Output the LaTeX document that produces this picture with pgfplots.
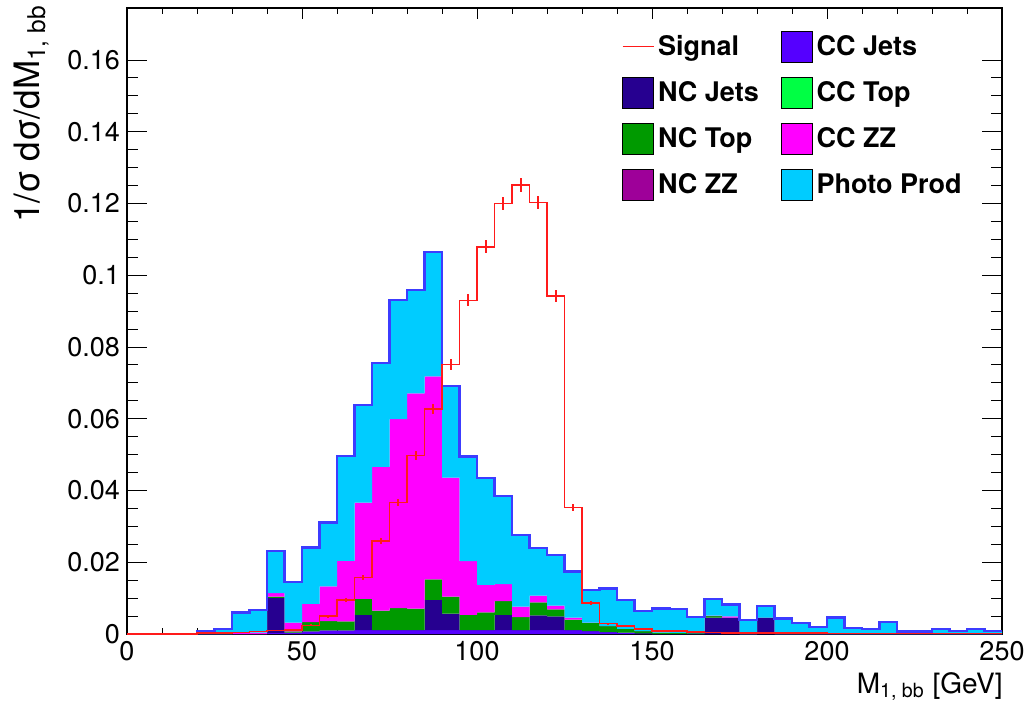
\documentclass[border=0pt]{standalone}
\usepackage{pgfplots}
\pgfplotsset{compat=1.18}
\usepackage{pgfplotstable}
\usepackage{fontspec}
\setmainfont{TeX Gyre Heros}

\definecolor{ccjets}{HTML}{5500FF}
\definecolor{ncjets}{HTML}{260090}
\definecolor{nctop}{HTML}{009A00}
\definecolor{nczz}{HTML}{9E0099}
\definecolor{cctop}{HTML}{00FF44}
\definecolor{cczz}{HTML}{FF00FF}
\definecolor{photo}{HTML}{00CCFF}
\definecolor{outl}{HTML}{3C3CFF}
\definecolor{sigred}{HTML}{FF1A1A}

% x = left bin edge (GeV); last row repeats the last bin to close the step
\pgfplotstableread{
x   ccjets ncjets nctop  cczz   photo  sig    err
0   0      0      0      0      0      0      0
5   0      0      0      0      0      0      0
10  0      0      0      0      0      0      0
15  0      0      0      0      0      0      0
20  0      0      0      0      0.0008 0.0002 0
25  0      0      0      0      0.0013 0.0003 0
30  0      0      0      0.0003 0.0057 0.0004 0
35  0      0      0      0.0004 0.0062 0.0007 0
40  0.0003 0.0098 0.0003 0.0010 0.0118 0.0010 0.0001
45  0.0004 0      0.0003 0.0025 0.0114 0.0012 0.0002
50  0.0007 0      0.0026 0.0051 0.0157 0.0024 0.0003
55  0.0010 0      0.0026 0.0097 0.0178 0.0050 0.0004
60  0.0010 0      0.0025 0.0169 0.0293 0.0095 0.0005
65  0.0011 0.0042 0.0045 0.0268 0.0272 0.0157 0.0007
70  0.0011 0      0.0054 0.0401 0.0289 0.0260 0.0009
75  0.0011 0      0.0061 0.0527 0.0332 0.0367 0.0010
80  0.0011 0      0.0060 0.0600 0.0288 0.0498 0.0012
85  0.0011 0.0084 0.0057 0.0566 0.0347 0.0628 0.0014
90  0.0011 0.0046 0.0047 0.0332 0.0256 0.0751 0.0015
95  0.0011 0      0.0042 0.0150 0.0292 0.0930 0.0017
100 0.0011 0      0.0049 0.0077 0.0298 0.1079 0.0018
105 0.0011 0.0042 0.0039 0.0047 0.0245 0.1200 0.0019
110 0.0011 0      0.0036 0.0029 0.0199 0.1252 0.0019
115 0.0011 0.0041 0.0036 0.0019 0.0132 0.1203 0.0019
120 0.0011 0.0038 0.0020 0.0010 0.0142 0.0942 0.0017
125 0.0011 0      0.0029 0.0006 0.0128 0.0353 0.0010
130 0.0008 0      0.0023 0.0001 0.0090 0.0086 0.0005
135 0.0005 0      0.0017 0      0.0105 0.0029 0.0003
140 0.0004 0      0.0010 0      0.0080 0.0022 0.0003
145 0.0002 0      0.0006 0      0.0057 0.0014 0.0002
150 0      0      0.0004 0      0.0067 0.0008 0.0001
155 0      0      0.0003 0      0.0066 0.0008 0.0001
160 0      0      0.0002 0      0.0045 0.0006 0.0001
165 0      0.0046 0.0004 0.0001 0.0046 0.0004 0
170 0      0.0046 0      0.0003 0.0033 0.0003 0
175 0      0      0      0      0.0039 0.0003 0
180 0      0.0046 0      0      0.0033 0.0003 0
185 0      0      0      0      0.0043 0.0002 0
190 0      0      0      0      0.0030 0.0002 0
195 0      0      0      0      0.0019 0.0002 0
200 0      0      0      0      0.0046 0.0001 0
205 0      0      0      0      0.0016 0.0001 0
210 0      0      0      0      0.0015 0.0001 0
215 0      0      0      0      0.0034 0.0001 0
220 0      0      0      0      0.0007 0.0001 0
225 0      0      0      0      0.0007 0.0001 0
230 0      0      0      0      0.0015 0.0001 0
235 0      0      0      0      0.0009 0.0001 0
240 0      0      0      0      0.0015 0.0001 0
245 0      0      0      0      0.0009 0.0001 0
250 0      0      0      0      0.0009 0.0001 0
}\data

\pgfplotsset{
  sq legend/.style={legend image code/.code={\fill[##1] (0pt,-7.75pt) rectangle (15.5pt,7.75pt);}},
  ln legend/.style={legend image code/.code={\draw[##1] (0pt,0pt) -- (15.5pt,0pt);}},
}

\begin{document}
\begin{tikzpicture}
\begin{axis}[
  name=ax,
  scale only axis,
  width=437.5pt, height=313pt,
  xmin=0, xmax=250, ymin=0, ymax=0.1745,
  enlargelimits=false,
  stack plots=y,
  reverse stacked plots=false,
  axis line style={line width=0.9pt},
  tick align=inside,
  xtick={0,50,100,150,200,250},
  xticklabels={0,50,100,150,200,250},
  ytick={0,0.02,0.04,0.06,0.08,0.1,0.12,0.14,0.16},
  yticklabels={0,0.02,0.04,0.06,0.08,0.1,0.12,0.14,0.16},
  minor x tick num=4,
  minor y tick num=3,
  tick style={line width=0.5pt, black},
  xtick style={/pgfplots/major tick length=5.75pt, /pgfplots/minor tick length=3pt},
  ytick style={/pgfplots/major tick length=10pt, /pgfplots/minor tick length=5.5pt},
  every tick label/.append style={font=\fontsize{13.5}{16}\selectfont},
  xlabel={M\textsubscript{1, bb} [GeV]},
  ylabel={1/σ dσ/dM\textsubscript{1, bb}},
  xlabel style={font=\fontsize{14}{17}\selectfont, at={(axis description cs:1,0)}, anchor=north east, inner sep=0pt, xshift=0.5pt, yshift=-19pt},
  ylabel style={font=\fontsize{17.5}{20}\selectfont, at={(axis description cs:-0.089,1.005)}, anchor=south east, inner sep=0pt},
  legend columns=2,
  legend style={at={(rel axis cs:0.5657,0.9635)}, anchor=north west, draw=none, fill=none,
    inner sep=0pt, outer sep=0pt,
    font=\fontsize{13.5}{16}\selectfont\bfseries,
    row sep=7.2pt,
    /tikz/column 2/.style={column sep=9pt},
    cells={anchor=west}},
]
% legend entries (column-wise order of the reference)
\addlegendimage{ln legend, sigred, line width=0.6pt}
\addlegendentry{Signal}
\addlegendimage{sq legend, fill=ccjets}
\addlegendentry{CC Jets}
\addlegendimage{sq legend, fill=ncjets}
\addlegendentry{NC Jets}
\addlegendimage{sq legend, fill=cctop}
\addlegendentry{CC Top}
\addlegendimage{sq legend, fill=nctop}
\addlegendentry{NC Top}
\addlegendimage{sq legend, fill=cczz}
\addlegendentry{CC ZZ}
\addlegendimage{sq legend, fill=nczz}
\addlegendentry{NC ZZ}
\addlegendimage{sq legend, fill=photo}
\addlegendentry{Photo Prod}

% stacked backgrounds
\addplot[const plot mark left, fill=ccjets, draw=none] table[x=x, y=ccjets]{\data} \closedcycle;
\addplot[const plot mark left, fill=ncjets, draw=none] table[x=x, y=ncjets]{\data} \closedcycle;
\addplot[const plot mark left, fill=nctop, draw=none] table[x=x, y=nctop]{\data} \closedcycle;
\addplot[const plot mark left, fill=cczz, draw=none] table[x=x, y=cczz]{\data} \closedcycle;
\addplot[const plot mark left, fill=photo, draw=none] table[x=x, y=photo]{\data} \closedcycle;
% outline of the total (zero increment on top of the stack)
\addplot[const plot mark left, draw=outl, line width=1.1pt] table[x=x, y expr=0]{\data};

% signal
\addplot[stack plots=false, const plot mark left, draw=sigred, line width=0.8pt] table[x=x, y=sig]{\data};
\addplot[stack plots=false, draw=none, mark=none,
  error bars/.cd, y dir=both, y explicit, error mark=none,
  error bar style={draw=sigred, line width=0.8pt}]
  table[x expr=\thisrow{x}+2.5, y=sig, y error=err]{\data};
\end{axis}
\pgfresetboundingbox
\path[use as bounding box] ([shift={(-63.5pt,-36.5pt)}]ax.south west) rectangle ([shift={(14.5pt,4pt)}]ax.north east);
\end{tikzpicture}
\end{document}
